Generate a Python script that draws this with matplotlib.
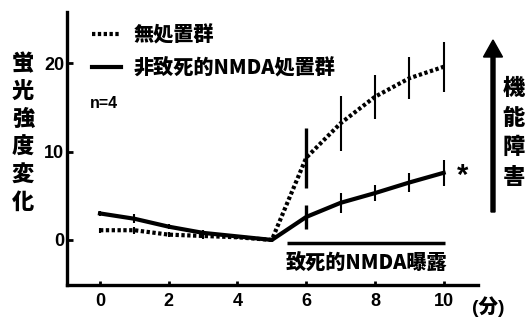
import matplotlib.pyplot as plt
from matplotlib.patches import FancyArrow

plt.rcParams['font.family'] = ['Liberation Sans', 'Noto Sans CJK JP']
plt.rcParams['font.weight'] = 'bold'

CJK = ['Noto Sans CJK JP', 'Liberation Sans']
LATIN = 'Liberation Sans'
HEAVY = 'black'

# --- data ---
minutes = [0, 1, 2, 3, 4, 5, 6, 7, 8, 9, 10]
control = [1.1, 1.1, 0.6, 0.45, 0.3, 0.0, 9.3, 13.2, 16.2, 18.3, 19.6]
control_err = [0.3, 0.4, 0.3, 0.3, 0.2, 0.0, 3.4, 3.1, 2.5, 2.4, 2.8]
nonlethal = [3.0, 2.4, 1.5, 0.8, 0.4, 0.0, 2.6, 4.2, 5.3, 6.5, 7.6]
nonlethal_err = [0.3, 0.5, 0.3, 0.3, 0.2, 0.0, 1.4, 1.1, 0.9, 1.1, 1.5]

x_ticks = [0, 2, 4, 6, 8, 10]
y_ticks = [0, 10, 20]
exposure_span = [5.45, 10.05]

W, H = 529, 320
fig = plt.figure(figsize=(W / 100, H / 100), dpi=100)
ax = fig.add_axes([67 / W, 1 - 285 / H, 411 / W, 273 / H])

ax.plot(minutes, control, color='black', lw=3, linestyle=(0, (0.8, 0.6)),
        label='無処置群')
ax.plot(minutes, nonlethal, color='black', lw=3, label='非致死的NMDA処置群')

# error bars, the 6-min ones drawn heavier
for series, err in [(control, control_err), (nonlethal, nonlethal_err)]:
    for x, y, e in zip(minutes, series, err):
        if e == 0:
            continue
        ax.plot([x, x], [y - e, y + e], color='black',
                lw=2.4 if x == 6 else 1.5, solid_capstyle='butt')

# exposure bar
ax.plot(exposure_span, [-0.35, -0.35], color='black', lw=2.5, solid_capstyle='butt')
ax.text(sum(exposure_span) / 2, -2.55, '致死的NMDA曝露', ha='center', va='center',
        fontsize=14.5, fontweight=HEAVY, family=CJK)

ax.text(10.55, 7.2, '*', ha='center', va='center', fontsize=21,
        fontweight='bold', family=LATIN)
ax.text(-0.3, 15.4, 'n=4', ha='left', va='center', fontsize=11.5,
        fontweight='bold', family=LATIN)

ax.set_xlim(-0.96, 11.0)
ax.set_ylim(-5.1, 25.8)
ax.set_xticks(x_ticks, labels=[str(t) for t in x_ticks],
              fontsize=13, fontweight='bold', family=LATIN)
ax.set_yticks(y_ticks, labels=[str(t) for t in y_ticks],
              fontsize=13, fontweight='bold', family=LATIN)
ax.tick_params(direction='in', length=3, width=2, pad=6)
ax.tick_params(axis='y', length=4, pad=2)

for side in ['top', 'right']:
    ax.spines[side].set_visible(False)
for side in ['left', 'bottom']:
    ax.spines[side].set_linewidth(2.4)

leg = ax.legend(loc='upper left', bbox_to_anchor=(92 / W, 1 - 25 / H),
                bbox_transform=fig.transFigure, frameon=False,
                handlelength=1.45, handletextpad=0.62, labelspacing=0.6,
                borderaxespad=0, borderpad=0,
                prop={'family': CJK, 'size': 14.5, 'weight': HEAVY})

# y label, stacked vertical
fig.text(23 / W, 1 - 133 / H, '\n'.join('蛍光強度変化'), ha='center', va='center',
         fontsize=16, fontweight=HEAVY, family=CJK, linespacing=1.27)

# arrow and right-hand label
fig.add_artist(FancyArrow(
    493 / W, 1 - 212 / H, 0, (212 - 40) / H, width=4 / W,
    head_width=19 / W, head_length=17 / H, length_includes_head=True,
    color='black', transform=fig.transFigure))
fig.text(514 / W, 1 - 133 / H, '\n'.join('機能障害'), ha='center', va='center',
         fontsize=16, fontweight=HEAVY, family=CJK, linespacing=1.36)

fig.text(488 / W, 1 - 307 / H, '(分)', ha='center', va='center',
         fontsize=14, fontweight=HEAVY, family=[LATIN, 'Noto Sans CJK JP'])

fig.savefig('out.png', dpi=100)
